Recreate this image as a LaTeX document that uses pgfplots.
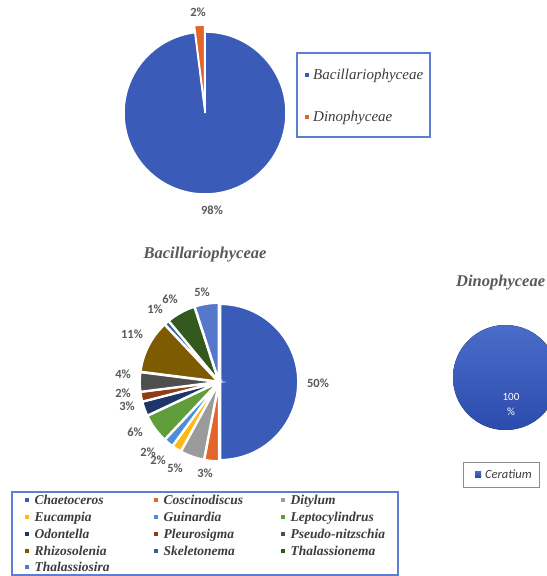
\documentclass[border=0pt]{standalone}
\usepackage{pgfplots}
\pgfplotsset{compat=1.18}
\usepackage{pgfplotstable}
\usepackage{fontspec}
\setmainfont{Liberation Serif}
\newfontfamily\calibri{Carlito}
\usetikzlibrary{calc}

% slice colours
\definecolor{cChaet}{HTML}{3A5BB8}
\definecolor{cCosc}{HTML}{E2652B}
\definecolor{cDity}{HTML}{9B9B9B}
\definecolor{cEuca}{HTML}{FDB915}
\definecolor{cGuin}{HTML}{4C8FD8}
\definecolor{cLept}{HTML}{5F9E3B}
\definecolor{cOdon}{HTML}{1F3468}
\definecolor{cPleu}{HTML}{8F3B13}
\definecolor{cPseu}{HTML}{4E4E4E}
\definecolor{cRhiz}{HTML}{7E5A00}
\definecolor{cSkel}{HTML}{2F5F9E}
\definecolor{cThne}{HTML}{33591F}
\definecolor{cThsi}{HTML}{5678CC}
\definecolor{cCeraTop}{HTML}{4A6CC9}
\definecolor{cCeraBot}{HTML}{2C4CAD}
\definecolor{txt}{HTML}{595959}
\definecolor{legtxt}{HTML}{3C3C3C}
\definecolor{legframe}{HTML}{5D7FD0}

\tikzset{
  sChaet/.style={fill=cChaet}, sCosc/.style={fill=cCosc},
  sDity/.style={fill=cDity},   sEuca/.style={fill=cEuca},
  sGuin/.style={fill=cGuin},   sLept/.style={fill=cLept},
  sOdon/.style={fill=cOdon},   sPleu/.style={fill=cPleu},
  sPseu/.style={fill=cPseu},   sRhiz/.style={fill=cRhiz},
  sSkel/.style={fill=cSkel},   sThne/.style={fill=cThne},
  sThsi/.style={fill=cThsi},
  sCera/.style={top color=cCeraTop, bottom color=cCeraBot},
  gapA/.style={draw=white, line width=1.5bp},
  gapB/.style={draw=white, line width=2.2bp},
  gapN/.style={draw=none},
}

% classes of phytoplankton
\pgfplotstableread{
name value lx ly explode style gx gy
Bacillariophyceae 98 212 210 0 sChaet 307 75
Dinophyceae 2 198 12 7 sCosc 307 117
}\classes

% genera of Bacillariophyceae
\pgfplotstableread{
name value lx ly explode style gx gy
Chaetoceros 50 318 383 1.2 sChaet 27 500
Coscinodiscus 3 205 473 1.2 sCosc 156 500
Ditylum 5 175 468 1.2 sDity 283 500
Eucampia 2 158 460 1.2 sEuca 27 517
Guinardia 2 148 452 1.2 sGuin 156 517
Leptocylindrus 6 135 432 1.2 sLept 283 517
Odontella 3 127 406 1.2 sOdon 27 534
Pleurosigma 2 123 393 1.2 sPleu 156 534
Pseudo-nitzschia 4 123 374 1.2 sPseu 283 534
Rhizosolenia 11 132 334 1.2 sRhiz 27 551
Skeletonema 1 155 309 1.2 sSkel 156 551
Thalassionema 6 170 299 1.2 sThne 283 551
Thalassiosira 5 202 292 1.2 sThsi 27 567
}\bacil

% genera of Dinophyceae
\pgfplotstableread{
name value lx ly explode style gx gy
Ceratium 100 511 404 0 sCera 478 474
}\dino

\newcommand\pctA[1]{#1\%}
\newcommand\pctB[1]{#1\\\%}

% #1 table, #2 cx, #3 cy, #4 radius, #5 border style,
% #6 label macro, #7 label style, #8 legend text style, #9 swatch size
\newcommand{\drawpie}[9]{%
  \pgfplotstablegetrowsof{#1}%
  \pgfmathtruncatemacro{\lastrow}{\pgfplotsretval-1}%
  \xdef\startang{90}%
  \pgfplotsforeachungrouped \i in {0,...,\lastrow}{%
    \pgfplotstablegetelem{\i}{value}\of{#1}\let\val\pgfplotsretval
    \pgfplotstablegetelem{\i}{name}\of{#1}\let\nam\pgfplotsretval
    \pgfplotstablegetelem{\i}{lx}\of{#1}\let\lx\pgfplotsretval
    \pgfplotstablegetelem{\i}{ly}\of{#1}\let\ly\pgfplotsretval
    \pgfplotstablegetelem{\i}{explode}\of{#1}\let\ex\pgfplotsretval
    \pgfplotstablegetelem{\i}{style}\of{#1}\let\sty\pgfplotsretval
    \pgfplotstablegetelem{\i}{gx}\of{#1}\let\gx\pgfplotsretval
    \pgfplotstablegetelem{\i}{gy}\of{#1}\let\gy\pgfplotsretval
    \pgfmathsetmacro\endang{\startang-3.6*\val}%
    \pgfmathsetmacro\midang{(\startang+\endang)/2}%
    \edef\temp{%
      \noexpand\fill[\sty, #5]
        ($(axis cs:#2,#3)+(\midang:\ex bp)$) -- ++(\startang:#4)
        arc[start angle=\startang, end angle=\endang, radius=#4] -- cycle;
      \noexpand\node[#7] at (axis cs:\lx,\ly) {\noexpand#6{\val}};
      \noexpand\fill[\sty] ($(axis cs:\gx,\gy)+(-#9/2,-#9/2)$) rectangle ++(#9,#9);
      \noexpand\node[#8] at (axis cs:\gx,\gy) {\nam};
    }%
    \temp
    \xdef\startang{\endang}%
  }%
}

\tikzset{
  pctlab/.style={text=txt, font=\calibri\bfseries\fontsize{12.5bp}{14bp}\selectfont, inner sep=0pt, align=center},
  whitelab/.style={text=white, font=\calibri\fontsize{11bp}{15bp}\selectfont, inner sep=0pt, align=center},
  legA/.style={anchor=base west, xshift=6bp, yshift=-5bp, text=legtxt, inner sep=0pt, font=\itshape\fontsize{15bp}{18bp}\selectfont},
  legB/.style={anchor=base west, xshift=7.5bp, yshift=-4.5bp, text=legtxt, inner sep=0pt, font=\bfseries\itshape\fontsize{13.5bp}{16bp}\selectfont},
  legC/.style={anchor=base west, xshift=7bp, yshift=-4.2bp, text=legtxt, inner sep=0pt, font=\calibri\itshape\fontsize{12.5bp}{15bp}\selectfont},
  ttl/.style={text=txt, inner sep=0pt, font=\bfseries\itshape\fontsize{16.5bp}{19bp}\selectfont},
}

\begin{document}
\begin{tikzpicture}
\begin{axis}[
  x=1bp, y=1bp, y dir=reverse,
  xmin=0, xmax=547, ymin=0, ymax=576,
  hide axis, scale only axis,
  clip=true, clip mode=global,
]
% frames of the legends
\draw[legframe, line width=1.2bp] (axis cs:297,53) rectangle (axis cs:430,137);
\draw[legframe, line width=1.2bp] (axis cs:12,492) rectangle (axis cs:398,575);
\draw[black!45, line width=1bp] (axis cs:463,462) rectangle (axis cs:539,487);

% titles
\node[ttl] at (axis cs:205,255) {Bacillariophyceae};
\node[ttl, anchor=west] at (axis cs:456,283) {Dinophyceae};

% pies
\drawpie{\classes}{205}{113}{81bp}{gapA}{\pctA}{pctlab}{legA}{4bp}
\drawpie{\bacil}{219}{382}{78bp}{gapB}{\pctA}{pctlab}{legB}{4bp}
\drawpie{\dino}{505.5}{377.5}{52.5bp}{gapN}{\pctB}{whitelab}{legC}{6bp}

\coordinate (pageA) at (axis cs:0,0);
\coordinate (pageB) at (axis cs:547,576);
\end{axis}
\pgfresetboundingbox
\path (pageA) rectangle (pageB);
\end{tikzpicture}
\end{document}
